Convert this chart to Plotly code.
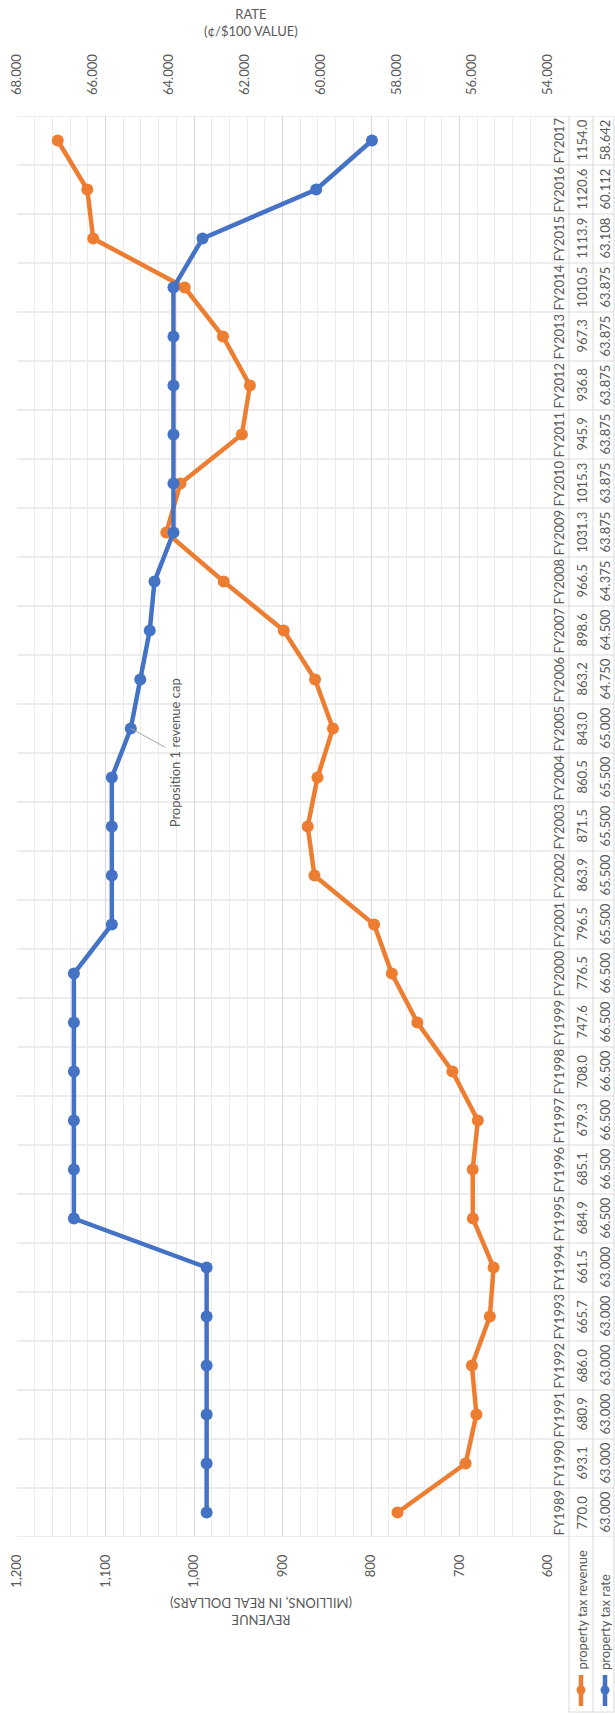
import plotly.graph_objects as go

# ---------------- data ----------------
years = ["FY1989", "FY1990", "FY1991", "FY1992", "FY1993", "FY1994", "FY1995", "FY1996",
         "FY1997", "FY1998", "FY1999", "FY2000", "FY2001", "FY2002", "FY2003", "FY2004",
         "FY2005", "FY2006", "FY2007", "FY2008", "FY2009", "FY2010", "FY2011", "FY2012",
         "FY2013", "FY2014", "FY2015", "FY2016", "FY2017"]
revenue = [770.0, 693.1, 680.9, 686.0, 665.7, 661.5, 684.9, 685.1, 679.3, 708.0,
           747.6, 776.5, 796.5, 863.9, 871.5, 860.5, 843.0, 863.2, 898.6, 966.5,
           1031.3, 1015.3, 945.9, 936.8, 967.3, 1010.5, 1113.9, 1120.6, 1154.0]
rate = [63.000, 63.000, 63.000, 63.000, 63.000, 63.000, 66.500, 66.500, 66.500, 66.500,
        66.500, 66.500, 65.500, 65.500, 65.500, 65.500, 65.000, 64.750, 64.500, 64.375,
        63.875, 63.875, 63.875, 63.875, 63.875, 63.875, 63.108, 60.112, 58.642]
revenue_ticks = [600, 700, 800, 900, 1000, 1100, 1200]
rate_ticks = [54, 56, 58, 60, 62, 64, 66, 68]
series_names = ["property tax revenue", "property tax rate"]
annotation_year = "FY2005"
annotation_text = "Proposition 1 revenue cap"

# ---------------- layout geometry ----------------
W, H = 615, 1714
L, R, T, B = 17, 548, 116, 1537
ORANGE = "#ED7D31"
BLUE = "#4472C4"
TXT = "#595959"
GRID = "#d9d9d9"
FONT = "Lato"


def px(xpix):
    return (xpix - L) / (R - L)


def py(ypix):
    return (B - ypix) / (B - T)


fig = go.Figure()
fig.add_trace(go.Scatter(x=revenue, y=years, xaxis="x", yaxis="y", mode="lines+markers",
                         name=series_names[0], line=dict(color=ORANGE, width=4.5),
                         marker=dict(color=ORANGE, size=12), showlegend=False))
fig.add_trace(go.Scatter(x=rate, y=years, xaxis="x2", yaxis="y", mode="lines+markers",
                         name=series_names[1], line=dict(color=BLUE, width=4.5),
                         marker=dict(color=BLUE, size=12), showlegend=False))

shapes = []
# horizontal category boundary lines (plot + data table)
for k in range(len(years) + 1):
    shapes.append(dict(type="line", xref="paper", yref="y", x0=0, x1=px(614),
                       y0=k - 0.5, y1=k - 0.5, line=dict(color=GRID, width=1), layer="below"))
# vertical data-table lines
for xv in (569, 593, 614):
    shapes.append(dict(type="line", xref="paper", yref="paper", x0=px(xv), x1=px(xv),
                       y0=1, y1=py(1712), line=dict(color=GRID, width=1), layer="below"))
shapes.append(dict(type="line", xref="paper", yref="paper", x0=px(569), x1=px(614),
                   y0=py(1712), y1=py(1712), line=dict(color=GRID, width=1), layer="below"))
# legend keys
for xv, col in ((581, ORANGE), (605, BLUE)):
    shapes.append(dict(type="line", xref="paper", yref="paper", x0=px(xv), x1=px(xv),
                       y0=py(1675), y1=py(1706), line=dict(color=col, width=4.5)))
    shapes.append(dict(type="circle", xref="paper", yref="paper", x0=px(xv - 4.5), x1=px(xv + 4.5),
                       y0=py(1690 + 4.5), y1=py(1690 - 4.5), fillcolor=col, line=dict(color=col, width=0)))

annotations = []
# data table text
for yr, rv, rt in zip(years, revenue, rate):
    for xv, txt in ((558, yr), (581, f"{rv:.1f}"), (604, f"{rt:.3f}")):
        annotations.append(dict(xref="paper", yref="y", x=px(xv), y=yr, text=txt,
                                textangle=-90, showarrow=False, xanchor="center", yanchor="middle",
                                font=dict(family=FONT, size=13, color=TXT)))
# legend text
for xv, name in ((581, series_names[0]), (605, series_names[1])):
    annotations.append(dict(xref="paper", yref="paper", x=px(xv), y=py(1672), text=name,
                            textangle=-90, showarrow=False, xanchor="center", yanchor="bottom",
                            font=dict(family=FONT, size=13, color=TXT)))
# axis titles
annotations.append(dict(xref="paper", yref="paper", x=px(251), y=py(22),
                        text="RATE<br>(¢/$100 VALUE)", showarrow=False,
                        xanchor="center", yanchor="middle",
                        font=dict(family=FONT, size=13, color=TXT)))
annotations.append(dict(xref="paper", yref="paper", x=px(261), y=py(1611),
                        text="REVENUE<br>(MILLIONS, IN REAL DOLLARS)", textangle=180,
                        showarrow=False, xanchor="center", yanchor="middle",
                        font=dict(family=FONT, size=13, color=TXT)))
# callout
ia = years.index(annotation_year)
annotations.append(dict(xref="x2", yref="y", x=rate[ia], y=years[ia], text=annotation_text,
                        textangle=-90, showarrow=True, arrowhead=0, arrowwidth=1,
                        arrowcolor="#a6a6a6", ax=44, ay=24,
                        font=dict(family=FONT, size=13, color=TXT)))

fig.update_layout(
    width=W, height=H,
    margin=dict(l=L, r=W - R, t=T, b=H - B, autoexpand=False),
    paper_bgcolor="white", plot_bgcolor="white",
    showlegend=False,
    shapes=shapes, annotations=annotations,
    xaxis=dict(range=[1200, 600], tickvals=revenue_ticks,
               ticktext=[f"{v:,}" for v in revenue_ticks], tickangle=-90,
               showgrid=True, gridcolor=GRID, gridwidth=1, zeroline=False, showline=False,
               ticks="", ticklabelstandoff=14,
               minor=dict(tickmode="linear", tick0=600, dtick=20, showgrid=True,
                          gridcolor="#ececec", gridwidth=1),
               tickfont=dict(family=FONT, size=13, color=TXT), fixedrange=True),
    xaxis2=dict(range=[68, 54], overlaying="x", side="top", tickvals=rate_ticks,
                ticktext=[f"{v:.3f}" for v in rate_ticks], tickangle=-90,
                showgrid=False, zeroline=False, showline=False, ticks="",
                ticklabelstandoff=20,
                tickfont=dict(family=FONT, size=13, color=TXT), fixedrange=True),
    yaxis=dict(type="category", categoryorder="array", categoryarray=years,
               range=[-0.5, len(years) - 0.5], showgrid=False, showticklabels=False,
               zeroline=False, showline=False, fixedrange=True),
)

fig.write_html(
    "out.html",
    config={"displayModeBar": False},
    post_script="document.body.style.margin='0';document.body.style.overflow='hidden';",
)
